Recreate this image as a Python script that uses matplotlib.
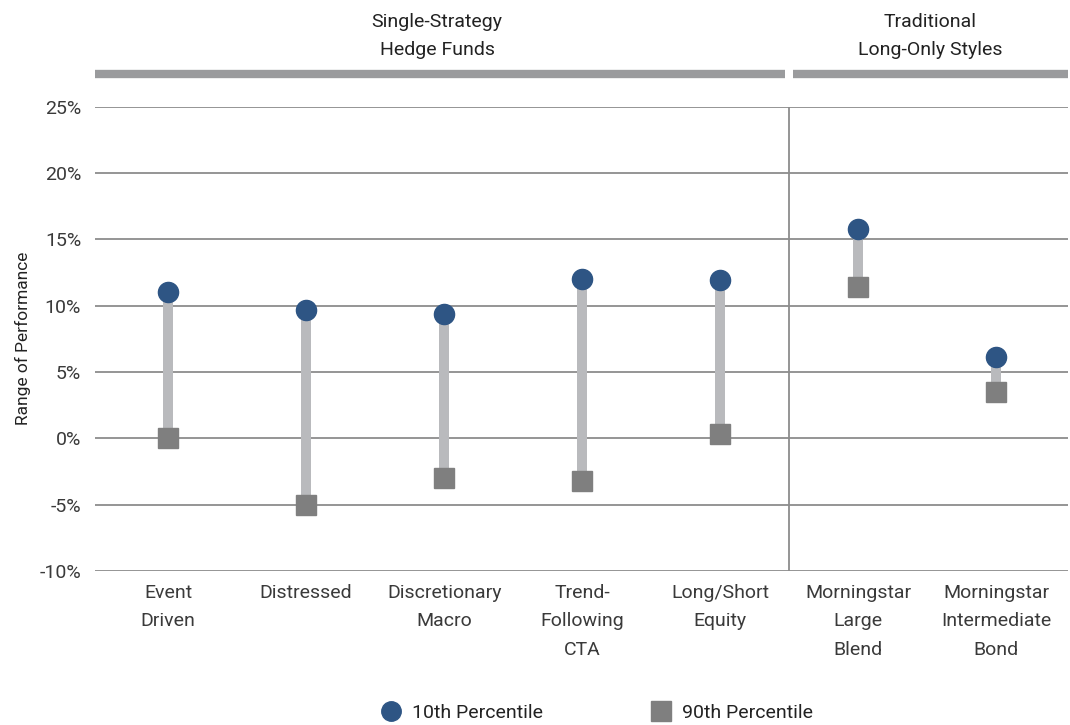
import matplotlib
matplotlib.use("Agg")
import matplotlib.pyplot as plt
import matplotlib.transforms as mtransforms
from matplotlib.lines import Line2D

plt.rcParams['font.family'] = ['Roboto', 'DejaVu Sans']

categories = ["Event\nDriven", "Distressed", "Discretionary\nMacro", "Trend-\nFollowing\nCTA",
              "Long/Short\nEquity", "Morningstar\nLarge\nBlend", "Morningstar\nIntermediate\nBond"]
p10 = [11.0, 9.7, 9.4, 12.0, 11.9, 15.8, 6.1]
p90 = [0.0, -5.0, -3.0, -3.2, 0.3, 11.4, 3.5]
yticks = [-10, -5, 0, 5, 10, 15, 20, 25]
groups = ["Single-Strategy\nHedge Funds", "Traditional\nLong-Only Styles"]

navy = "#2e5584"
sq_gray = "#7f7f7f"
stem_gray = "#b9babd"
grid_gray = "#8c8c8c"
text_col = "#3a3a3a"

fig = plt.figure(figsize=(10.7, 7.25), dpi=100)
ax = fig.add_axes([0.0888, 0.2124, 0.9092, 0.6407])

x = list(range(len(categories)))

ax.set_ylim(-10, 25)
ax.set_xlim(-0.53, 6.52)
ax.set_yticks(yticks)
ax.set_yticklabels([f"{v}%" for v in yticks])
ax.yaxis.grid(True, color=grid_gray, lw=1.3)
ax.set_axisbelow(True)
for s in ax.spines.values():
    s.set_visible(False)
ax.tick_params(length=0, labelsize=14, colors=text_col)
ax.tick_params(axis='y', pad=10)
ax.tick_params(axis='x', pad=9)
ax.set_xticks(x)
ax.set_xticklabels(categories, linespacing=1.75)

# separator between the two groups
ax.plot([4.5, 4.5], [-10, 25], color=grid_gray, lw=1.3, zorder=1)

ax.vlines(x, p90, p10, color=stem_gray, lw=7.2, zorder=2)
ax.plot(x, p10, 'o', color=navy, ms=14.5, mec=navy, zorder=3, ls='none')
ax.plot(x, p90, 's', color=sq_gray, ms=14.5, mec=sq_gray, zorder=3, ls='none')

ax.set_ylabel("Range of Performance", fontsize=12.5, color="#222222", labelpad=6)

trans = mtransforms.blended_transform_factory(ax.transData, ax.transAxes)
ax.plot([-0.53, 4.47], [1.07, 1.07], transform=trans, color="#9a9b9d", lw=6,
        solid_capstyle='butt', clip_on=False)
ax.plot([4.53, 6.52], [1.07, 1.07], transform=trans, color="#9a9b9d", lw=6,
        solid_capstyle='butt', clip_on=False)
ax.text(1.95, 1.152, groups[0], transform=trans, ha='center', va='center',
        fontsize=14, color="#222222", linespacing=1.75)
ax.text(5.52, 1.152, groups[1], transform=trans, ha='center', va='center',
        fontsize=14, color="#222222", linespacing=1.75)

handles = [Line2D([], [], marker='o', ls='none', color=navy, ms=14),
           Line2D([], [], marker='s', ls='none', color=sq_gray, ms=14)]
fig.legend(handles, ["10th Percentile", "90th Percentile"], loc='center',
           bbox_to_anchor=(0.558, 0.017), ncol=2, frameon=False, fontsize=14,
           columnspacing=5.6, handlelength=1, handletextpad=0.55,
           labelcolor="#222222")

fig.savefig("out.png", dpi=100)
